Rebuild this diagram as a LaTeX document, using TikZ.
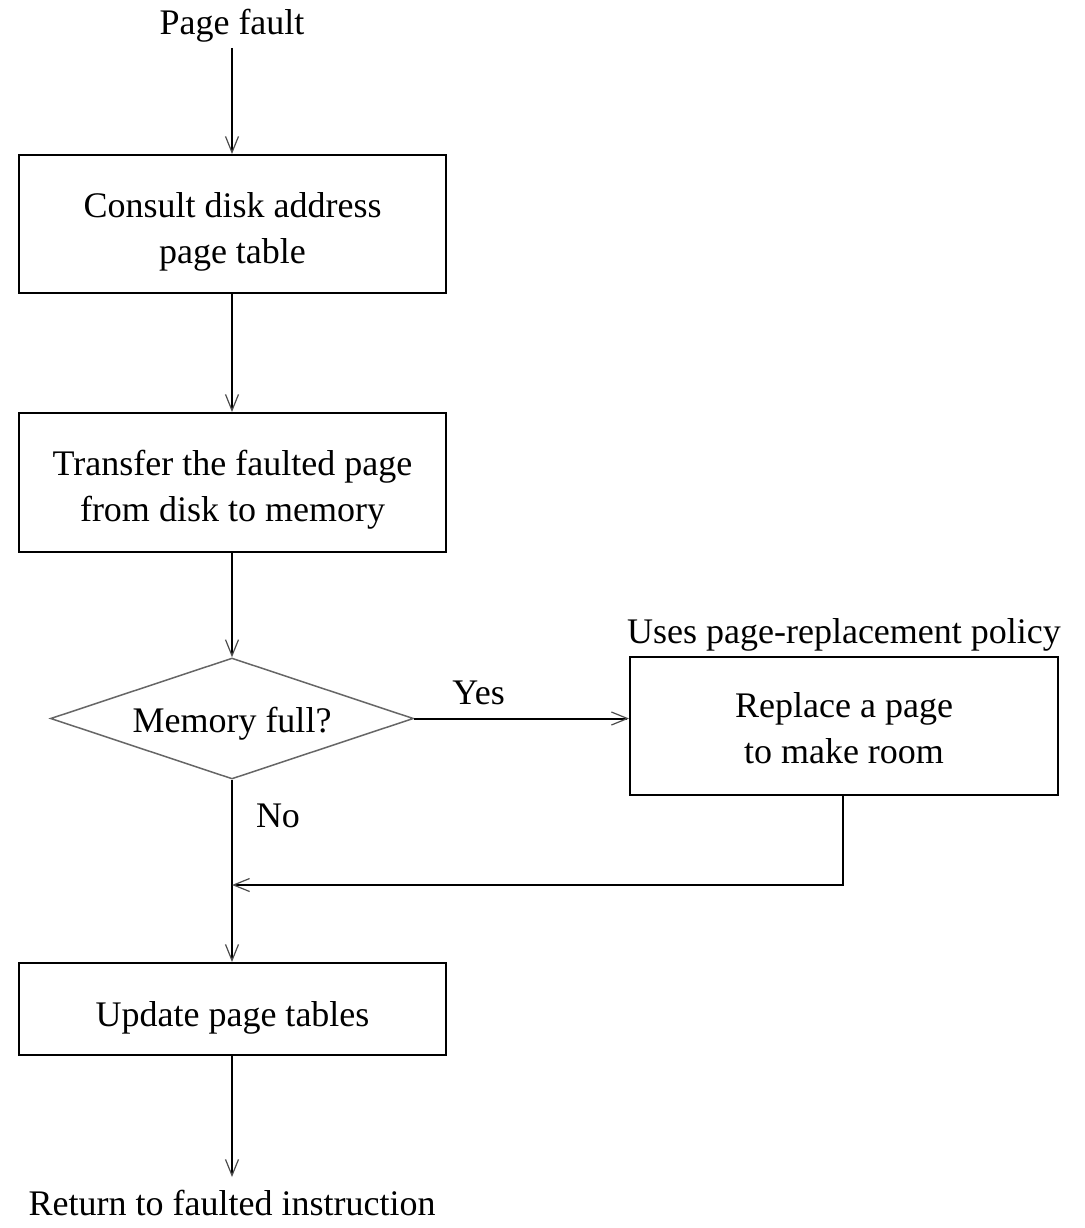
\documentclass[tikz,border=0pt]{standalone}
\usepackage{fontspec}
\setmainfont{Liberation Serif}
\usetikzlibrary{shapes.geometric,arrows.meta}

% box text set a little below the optical centre, keeping the box dimensions
\newcommand\boxtext[2][7pt]{\raisebox{-#1}[\height][\depth]{\begin{tabular}{@{}c@{}}#2\end{tabular}}}

\tikzset{
  proc/.style={draw=black, line width=2pt, minimum width=427pt, inner sep=0pt},
  decision/.style={diamond, aspect=3, draw=black!60, line width=1.5pt,
                   minimum width=363pt, minimum height=121pt, inner sep=0pt},
  lbl/.style={inner sep=0pt, align=center},
  flow/.style={line width=2pt, -{Straight Barb[length=16pt, width=13pt, line width=1.2pt, color=black!70]}},
}

\begin{document}
\begin{tikzpicture}[x=1pt, y=-1pt, font=\fontsize{36}{46}\selectfont]
  \useasboundingbox (0,0) rectangle (1084,1228);

  % start label
  \node[lbl, anchor=south] (pf) at (232,42) {Page fault};

  % processing steps
  \node[proc, minimum height=138pt] (consult) at (232.5,224) {\boxtext{Consult disk address\\page table}};
  \node[proc, minimum height=139pt] (transfer) at (232.5,482.5) {\boxtext{Transfer the faulted page\\from disk to memory}};
  \node[decision] (full) at (232,718.5) {\boxtext[5pt]{Memory full?}};
  \node[proc, minimum width=428pt, minimum height=138pt] (replace) at (844,726) {\boxtext[5pt]{Replace a page\\to make room}};
  \node[lbl, anchor=south] (policy) at (844,651) {Uses page-replacement policy};
  \node[proc, minimum height=92pt] (update) at (232.5,1009) {\boxtext[8pt]{Update page tables}};
  \node[lbl, anchor=north] (ret) at (232,1190) {Return to faulted instruction};

  % junction where the replacement branch rejoins the main flow
  \coordinate (join) at (232,885);

  % connectors
  \draw[flow] (pf.south |- 0,48) -- (consult.north -| pf.south);
  \draw[flow] (consult.south -| pf.south) -- (transfer.north -| pf.south);
  \draw[flow] (transfer.south -| pf.south) -- (full.north);
  \draw[flow] (full.east) -- node[lbl, above=13pt, pos=0.3] (yes) {Yes} (full.east -| replace.west);
  \draw[flow] (full.south) -- node[lbl, pos=0.2, right=23pt] (no) {No} (update.north -| full.south);
  \draw[flow] (replace.south -| 843,0) |- (join);
  \draw[flow, shorten >=13pt] (update.south -| pf.south) -- (ret.north -| pf.south);
\end{tikzpicture}
\end{document}
